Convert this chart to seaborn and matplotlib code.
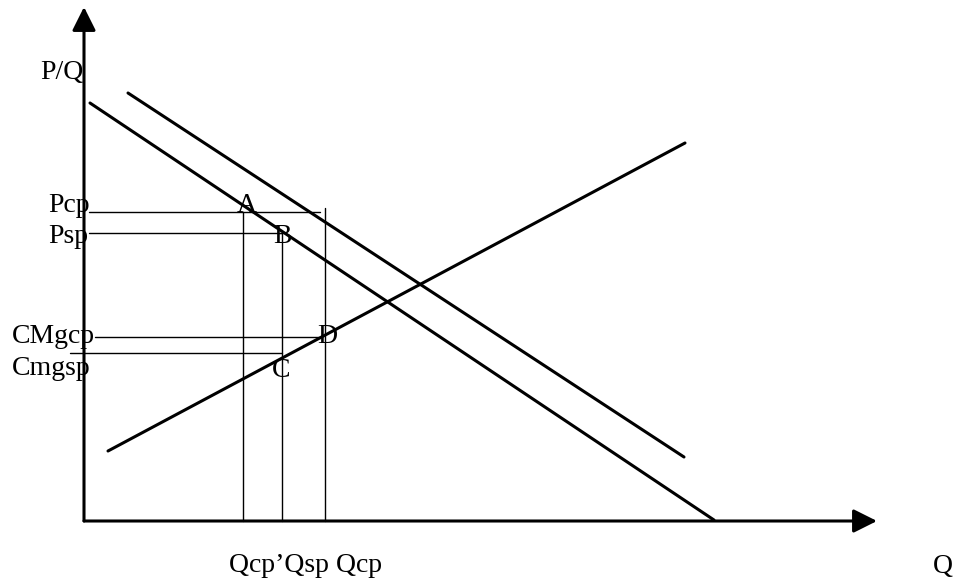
import pandas as pd
import matplotlib.pyplot as plt
import seaborn as sns

sns.set_style('white')
plt.rcParams['font.family'] = ['Liberation Serif', 'DejaVu Serif']

# ==========================================
# data (q, p) with origin at the corner of the axes
# ==========================================
# thick curves: two demand lines and marginal cost
curve_names = ['D_sp', 'D_cp', 'CMg']
curve_q = [[6, 630], [44, 600], [24, 601]]
curve_p = [[418, 1], [428, 64], [70, 378]]

# horizontal guide lines (prices / costs)
price_names = ['Pcp', 'Psp', 'CMgcp', 'Cmgsp']
price_levels = [309, 288, 184, 168]
price_from = [5, 5, 11, -14]
price_to = [236, 198, 236, 198]

# vertical guide lines (quantities)
qty_names = ["Qcp'", 'Qsp', 'Qcp']
qty_levels = [159, 198, 241]
qty_top = [309, 288, 313]

# axis lengths
q_max = 793
p_max = 514

# text labels
label_texts = ['P/Q', 'Pcp', 'Psp', 'CMgcp', 'Cmgsp', 'A', 'B', 'D', 'C',
               'Qcp\u2019Qsp Qcp', 'Q']
label_q = [-44, -36, -36, -72, -72, 153, 189, 233, 188, 145, 849]
label_p = [442, 309, 278, 178, 146, 309, 278, 178, 144, -51, -52]

# ==========================================
# build tables for seaborn
# ==========================================
rows = []
for name, qs, ps in zip(curve_names, curve_q, curve_p):
    for q, p in zip(qs, ps):
        rows.append({'name': name, 'q': q, 'p': p})
curves = pd.DataFrame(rows)

rows = []
for name, lvl, a, b in zip(price_names, price_levels, price_from, price_to):
    rows.append({'name': name, 'q': a, 'p': lvl})
    rows.append({'name': name, 'q': b, 'p': lvl})
for name, lvl, top in zip(qty_names, qty_levels, qty_top):
    rows.append({'name': name, 'q': lvl, 'p': top})
    rows.append({'name': name, 'q': lvl, 'p': 0})
guides = pd.DataFrame(rows)

# ==========================================
# draw
# ==========================================
fig = plt.figure(figsize=(9.55, 5.83), dpi=100)
ax = fig.add_axes([0, 0, 1, 1])

sns.lineplot(data=guides, x='q', y='p', units='name', estimator=None,
             sort=False, color='black', lw=1.0, ax=ax)
sns.lineplot(data=curves, x='q', y='p', units='name', estimator=None,
             sort=False, color='black', lw=2.2, ax=ax)

# axes with arrow heads
arrow = dict(arrowstyle='-|>', mutation_scale=36, lw=2.2, color='black',
             shrinkA=0, shrinkB=0)
ax.annotate('', xy=(0, p_max), xytext=(0, 0), arrowprops=arrow)
ax.annotate('', xy=(q_max, 0), xytext=(0, 0), arrowprops=arrow)

for t, q, p in zip(label_texts, label_q, label_p):
    ax.text(q, p, t, fontsize=20, ha='left', va='baseline', color='black')

ax.set_xlim(-84, 871)
ax.set_ylim(-62, 521)
ax.axis('off')

fig.savefig('out.png', dpi=100)
